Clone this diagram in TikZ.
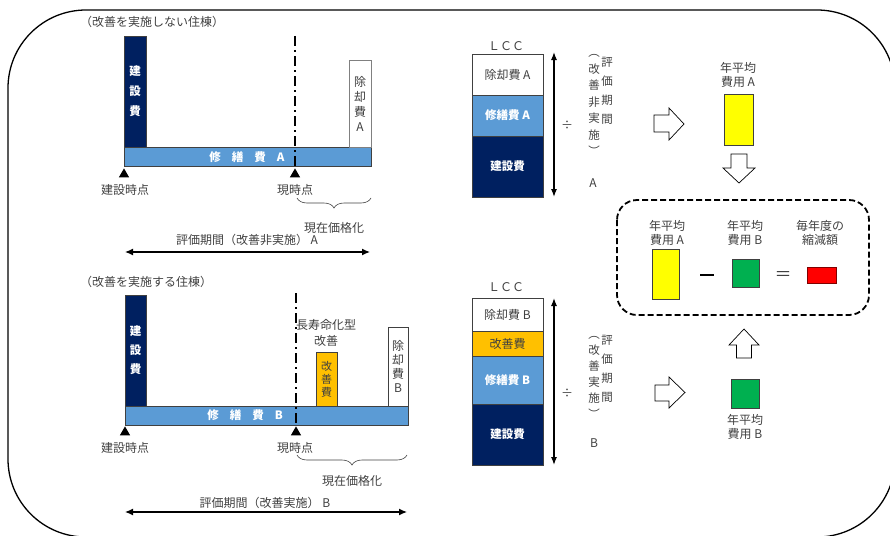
\documentclass[tikz,border=0pt]{standalone}
\usepackage{fontspec}
\setmainfont{Noto Sans CJK JP}
\usetikzlibrary{arrows.meta,shapes.geometric,decorations.pathreplacing}

\definecolor{navy}{RGB}{0,32,96}
\definecolor{repblue}{RGB}{91,155,213}
\definecolor{kaiorange}{RGB}{255,192,0}
\definecolor{avgyellow}{RGB}{255,255,0}
\definecolor{avggreen}{RGB}{0,176,80}
\definecolor{cutred}{RGB}{255,0,0}
\definecolor{txtgray}{RGB}{64,64,64}

\tikzset{
	txt/.style={text=txtgray, inner sep=0pt, align=center, font=\fontsize{12}{14}\selectfont},
	cell/.style={anchor=north west, inner sep=0pt, outer sep=0pt, align=center, draw=txtgray, line width=0.6pt},
	whitetxt/.style={text=white, inner sep=0pt, align=center, font=\bfseries\fontsize{11.5}{14}\selectfont},
	tri/.style={regular polygon, regular polygon sides=3, anchor=north, fill=black, inner sep=0pt, minimum size=12pt},
	nowline/.style={line width=1.8pt, dash pattern=on 10pt off 4pt on 2pt off 4pt},
	spanarrow/.style={line width=1.3pt, {Latex[length=8pt,width=7pt]}-{Latex[length=8pt,width=7pt]}},
	lccspan/.style={line width=1.2pt, {Latex[length=8pt,width=6pt]}-{Latex[length=8pt,width=6pt]}},
	bracket/.style={decorate, decoration={brace, mirror, amplitude=10pt}, draw=txtgray, line width=0.6pt},
	blockarrow/.style={draw=black, line width=0.7pt, fill=white, line join=miter},
	resultbox/.style={draw=black, line width=1.8pt, dash pattern=on 6pt off 3pt, rounded corners=20pt}
}

\begin{document}
\begin{tikzpicture}[x=1pt,y=-1pt]
	\useasboundingbox (0,0) rectangle (890,535);
	\begin{scope}
		\clip (0,0) rectangle (890,535);
		\draw[line width=1.3pt, rounded corners=78pt] (8,10) rectangle (895,537);
	\end{scope}

	\node[txt, anchor=west] (headA) at (80,22) {（改善を実施しない住棟）};
	\node[cell, fill=navy, minimum width=22pt, minimum height=111pt, whitetxt, font=\bfseries\fontsize{11.5}{20}\selectfont] (kenA) at (124,36) {建\\設\\費};
	\node[cell, fill=repblue, minimum width=247pt, minimum height=19pt] (shuA) at (124,147) {};
	\node[cell, fill=white, draw=gray, minimum width=22pt, minimum height=87pt, txt, font=\fontsize{12}{15}\selectfont] (joA) at (349,60) {除\\却\\費\\A};
	\node[whitetxt] (shuAtxt) at (247,157) {修\hspace{11pt}繕\hspace{11pt}費\hspace{11pt}A};
	\node[tri] (startA) at (124,168) {};
	\node[tri] (nowA) at (295,168) {};
	\coordinate (nowAtop) at (295,36);
	\draw[nowline] (nowAtop) -- (nowA.north);
	\node[txt] (startAlab) at (125,190) {建設時点};
	\node[txt] (nowAlab) at (295,190) {現時点};
	\coordinate (pvAl) at (297,198);
	\coordinate (pvAr) at (371,198);
	\draw[bracket] (pvAl) -- (pvAr);
	\node[txt] (pvA) at (334,228) {現在価格化};
	\node[txt] (periodA) at (247,240) {評価期間（改善非実施） A};
	\coordinate (periodAl) at (125,252);
	\coordinate (periodAr) at (370,252);
	\draw[spanarrow] (periodAl) -- (periodAr);

	\node[txt, anchor=west] (headB) at (80,282) {（改善を実施する住棟）};
	\node[cell, fill=navy, minimum width=21pt, minimum height=111pt, whitetxt, font=\bfseries\fontsize{11.5}{19}\selectfont] (kenB) at (125,295) {建\\設\\費};
	\node[cell, fill=repblue, minimum width=283pt, minimum height=19pt] (shuB) at (125,406) {};
	\node[cell, fill=kaiorange, minimum width=21pt, minimum height=54pt, txt, font=\fontsize{11}{13}\selectfont] (kaiB) at (316,352) {改\\善\\費};
	\node[cell, fill=white, minimum width=20pt, minimum height=79pt, txt, font=\fontsize{12}{14}\selectfont] (joB) at (388,327) {除\\却\\費\\B};
	\node[whitetxt] (shuBtxt) at (245,415) {修\hspace{11pt}繕\hspace{11pt}費\hspace{11pt}B};
	\node[txt, font=\fontsize{12}{16}\selectfont] (kaiBlab) at (326,333) {長寿命化型\\改善};
	\node[tri] (startB) at (125,426) {};
	\node[tri] (nowB) at (296,426) {};
	\coordinate (nowBtop) at (296,293);
	\draw[nowline] (nowBtop) -- (nowB.north);
	\node[txt] (startBlab) at (125,448) {建設時点};
	\node[txt] (nowBlab) at (295,448) {現時点};
	\coordinate (pvBl) at (297,455);
	\coordinate (pvBr) at (407,455);
	\draw[bracket] (pvBl) -- (pvBr);
	\node[txt] (pvB) at (352,481) {現在価格化};
	\node[txt] (periodB) at (265,503) {評価期間（改善実施） B};
	\coordinate (periodBl) at (125,512);
	\coordinate (periodBr) at (407,512);
	\draw[spanarrow] (periodBl) -- (periodBr);

	\node[txt] (lccA) at (506,46) {ＬＣＣ};
	\node[cell, fill=white, minimum width=71pt, minimum height=41pt, txt] (lccAjo) at (472,54) {除却費 A};
	\node[cell, fill=repblue, minimum width=71pt, minimum height=41pt, whitetxt] (lccAshu) at (472,95) {修繕費 A};
	\node[cell, fill=navy, minimum width=71pt, minimum height=61pt, whitetxt] (lccAken) at (472,136) {建設費};
	\coordinate (lccAtop) at (554,52);
	\coordinate (lccAbot) at (554,197);
	\draw[lccspan] (lccAtop) -- (lccAbot);
	\node[txt] (divA) at (567,125) {÷};
	\node[txt, font=\fontsize{11.5}{19}\selectfont] (evalA) at (607,91) {評\\価\\期\\間};
	\node[txt, font=\fontsize{11.5}{16.5}\selectfont] (condA) at (594,105) {︵\\改\\善\\非\\実\\施\\︶};
	\node[txt] (caseA) at (593,183) {A};

	\node[txt] (lccB) at (506,287) {ＬＣＣ};
	\node[cell, fill=white, minimum width=71pt, minimum height=33pt, txt] (lccBjo) at (472,298) {除却費 B};
	\node[cell, fill=kaiorange, minimum width=71pt, minimum height=25pt, txt] (lccBkai) at (472,331) {改善費};
	\node[cell, fill=repblue, minimum width=71pt, minimum height=48pt, whitetxt] (lccBshu) at (472,356) {修繕費 B};
	\node[cell, fill=navy, minimum width=71pt, minimum height=61pt, whitetxt] (lccBken) at (472,404) {建設費};
	\coordinate (lccBtop) at (554,298);
	\coordinate (lccBbot) at (554,465);
	\draw[lccspan] (lccBtop) -- (lccBbot);
	\node[txt] (divB) at (567,393) {÷};
	\node[txt, font=\fontsize{11.5}{19}\selectfont] (evalB) at (607,368.5) {評\\価\\期\\間};
	\node[txt, font=\fontsize{11.5}{16}\selectfont] (condB) at (594,377) {︵\\改\\善\\実\\施\\︶};
	\node[txt] (caseB) at (594,443) {B};

	\node[txt] (avgAlab) at (738,75) {年平均\\費用 A};
	\node[cell, fill=avgyellow, minimum width=29pt, minimum height=51pt] (avgA) at (724,94) {};
	\draw[blockarrow] (654,115) -- (669,115) -- (669,108) -- (684,124) -- (669,140) -- (669,132) -- (654,132) -- cycle;
	\draw[blockarrow] (731,154) -- (747,154) -- (747,168) -- (755,168) -- (739,183) -- (723,168) -- (731,168) -- cycle;

	\draw[resultbox] (617,200) rectangle (869,315);
	\node[txt] (resAlab) at (667,233) {年平均\\費用 A};
	\node[cell, fill=avgyellow, minimum width=27pt, minimum height=50pt] (resA) at (652,249) {};
	\node[txt, text=black] (minus) at (707,275) {\rule{14pt}{1.6pt}};
	\node[txt] (resBlab) at (745,233) {年平均\\費用 B};
	\node[cell, fill=avggreen, minimum width=27pt, minimum height=28pt] (resB) at (732,259) {};
	\node[txt, font=\fontsize{17}{17}\selectfont] (equal) at (783,276) {＝};
	\node[txt] (cutlab) at (820,233) {毎年度の\\縮減額};
	\node[cell, fill=cutred, draw=red!50!black, minimum width=29pt, minimum height=16pt] (cut) at (807,267) {};

	\draw[blockarrow] (736.5,358) -- (751.5,358) -- (751.5,345) -- (759,345) -- (744,329) -- (729,345) -- (736.5,345) -- cycle;
	\draw[blockarrow] (655,385) -- (669,385) -- (669,377) -- (685,392.5) -- (669,408) -- (669,401) -- (655,401) -- cycle;
	\node[cell, fill=avggreen, minimum width=28pt, minimum height=29pt] (avgB) at (731,379) {};
	\node[txt] (avgBlab) at (745,427) {年平均\\費用 B};
\end{tikzpicture}
\end{document}
